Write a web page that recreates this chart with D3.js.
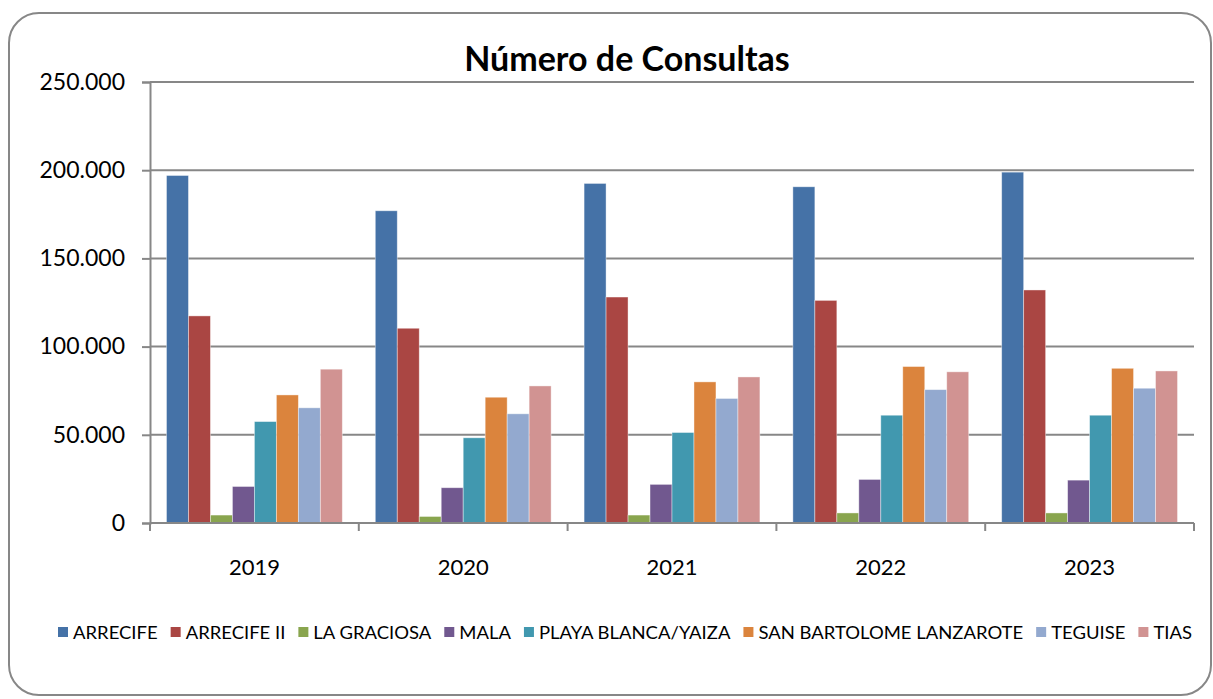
<!DOCTYPE html>
<html>
<head>
<meta charset="utf-8">
<script src="https://cdn.jsdelivr.net/npm/d3@7"></script>
<style>
  body { margin: 0; background: #fff; }
  svg { display: block; font-family: Lato, "Open Sans", sans-serif; }
</style>
</head>
<body>
<div id="chart"></div>
<script>
const years = ["2019", "2020", "2021", "2022", "2023"];
const centres = ["ARRECIFE", "ARRECIFE II", "LA GRACIOSA", "MALA", "PLAYA BLANCA/YAIZA", "SAN BARTOLOME LANZAROTE", "TEGUISE", "TIAS"];
const colors = ["#4572A7", "#AA4643", "#89A54E", "#71588F", "#4198AF", "#DB843D", "#93A9CF", "#D19392"];

// consultas por centro, una fila por año
const arrecife    = [197000, 177000, 192500, 190600, 198900];
const arrecife2   = [117400, 110400, 128100, 126200, 132100];
const laGraciosa  = [4500, 3700, 4500, 5700, 5700];
const mala        = [20700, 20000, 21900, 24700, 24300];
const playaBlanca = [57500, 48300, 51300, 61100, 61100];
const sanBartolome = [72600, 71300, 80000, 88700, 87700];
const teguise     = [65300, 61900, 70600, 75600, 76400];
const tias        = [87200, 77700, 82800, 85700, 86200];

const yTicks = [0, 50000, 100000, 150000, 200000, 250000];

const seriesValues = [arrecife, arrecife2, laGraciosa, mala, playaBlanca, sanBartolome, teguise, tias];

const width = 1213, height = 699;
const plot = {left: 150, right: 1194, top: 82, bottom: 523};
const grey = "#878787";

const svg = d3.select("#chart").append("svg")
    .attr("width", width)
    .attr("height", height);

// marco redondeado
svg.append("rect")
    .attr("x", 9).attr("y", 13)
    .attr("width", 1202).attr("height", 682)
    .attr("rx", 30).attr("ry", 30)
    .attr("fill", "#fff")
    .attr("stroke", grey)
    .attr("stroke-width", 2);

svg.append("text")
    .attr("x", 627).attr("y", 71)
    .attr("text-anchor", "middle")
    .attr("font-weight", "bold")
    .attr("font-size", 34)
    .attr("fill", "#000")
    .text("Número de Consultas");

const x0 = d3.scaleBand().domain(years).range([plot.left, plot.right]).padding(0);
const x1 = d3.scaleBand().domain(centres).range([0, x0.bandwidth()]).paddingInner(0).paddingOuter(0.75);
const y = d3.scaleLinear().domain([0, 250000]).range([plot.bottom, plot.top]);

// líneas de división
svg.append("g")
    .selectAll("line")
    .data(yTicks.filter(d => d > 0))
    .enter()
    .append("line")
    .attr("x1", plot.left).attr("x2", plot.right)
    .attr("y1", d => y(d)).attr("y2", d => y(d))
    .attr("stroke", grey)
    .attr("stroke-width", 2);

const fmt = d => d === 0 ? "0" : d3.format(",")(d).replace(/,/g, ".");

const yAxis = svg.append("g")
    .attr("transform", "translate(" + plot.left + ",0)")
    .call(d3.axisLeft(y).tickValues(yTicks).tickFormat(fmt).tickSize(8).tickPadding(17));
yAxis.selectAll("line, path").attr("stroke", grey).attr("stroke-width", 2);
yAxis.selectAll("text").attr("font-size", 23).attr("fill", "#000").attr("font-family", "Lato, sans-serif");

// barras
const groups = svg.append("g")
    .selectAll("g")
    .data(years)
    .enter()
    .append("g")
    .attr("transform", d => "translate(" + x0(d) + ",0)");

groups.selectAll("rect")
    .data((yr, i) => centres.map((c, j) => ({centre: c, value: seriesValues[j][i], color: colors[j]})))
    .enter()
    .append("rect")
    .attr("x", d => x1(d.centre))
    .attr("width", x1.bandwidth())
    .attr("y", d => y(d.value))
    .attr("height", d => y(0) - y(d.value))
    .attr("fill", d => d.color)
    .attr("stroke", "#fff")
    .attr("stroke-opacity", 0.5)
    .attr("stroke-width", 0.8);

// eje x
const xAxis = svg.append("g");
xAxis.append("line")
    .attr("x1", plot.left).attr("x2", plot.right)
    .attr("y1", plot.bottom).attr("y2", plot.bottom)
    .attr("stroke", grey).attr("stroke-width", 2);
xAxis.selectAll(".tick")
    .data(years.map(d => x0(d)).concat([plot.right]))
    .enter()
    .append("line")
    .attr("x1", d => d).attr("x2", d => d)
    .attr("y1", plot.bottom).attr("y2", plot.bottom + 8)
    .attr("stroke", grey).attr("stroke-width", 2);
xAxis.selectAll("text")
    .data(years)
    .enter()
    .append("text")
    .attr("x", d => x0(d) + x0.bandwidth() / 2)
    .attr("y", 575)
    .attr("text-anchor", "middle")
    .attr("font-size", 22)
    .attr("fill", "#000")
    .text(d => d);

// leyenda, comprimida para ocupar el mismo ancho que el original
const legend = svg.append("g");
const legendLeft = 58, legendRight = 1192, swatch = 10, swatchGap = 5, itemGap = 13;
const items = legend.selectAll("g")
    .data(centres)
    .enter()
    .append("g");
const labels = items.append("text")
    .attr("y", 639)
    .attr("font-size", 18)
    .attr("fill", "#000")
    .text(d => d);
const natural = [];
labels.each(function () { natural.push(this.getComputedTextLength()); });
const fixed = centres.length * (swatch + swatchGap) + (centres.length - 1) * itemGap;
const k = (legendRight - legendLeft - fixed) / d3.sum(natural);
let cursor = legendLeft;
items.each(function (d, i) {
    const g = d3.select(this);
    g.append("rect")
        .attr("x", cursor).attr("y", 627)
        .attr("width", swatch).attr("height", swatch)
        .attr("fill", colors[i]);
    g.select("text")
        .attr("x", cursor + swatch + swatchGap)
        .attr("textLength", natural[i] * k)
        .attr("lengthAdjust", "spacingAndGlyphs");
    cursor += swatch + swatchGap + natural[i] * k + itemGap;
});
</script>
</body>
</html>
